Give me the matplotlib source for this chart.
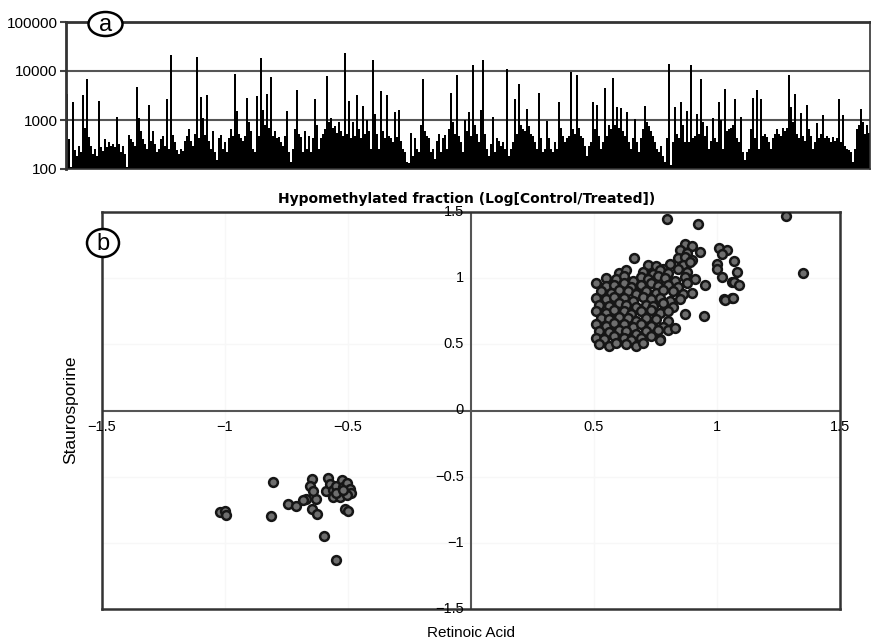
import matplotlib
matplotlib.use("Agg")
import matplotlib.pyplot as plt
import numpy as np
from matplotlib.transforms import offset_copy
from matplotlib.patches import Ellipse

plt.rcParams['font.family'] = ['Liberation Sans', 'DejaVu Sans']

# ---------------- Panel a data: signal per probe (log scale) ----------------
bar_values = [
    3400, 400, 110, 2300, 250, 180, 300, 220, 3200, 700,
    6900, 450, 300, 200, 260, 180, 2500, 280, 230, 400,
    280, 350, 300, 330, 280, 1150, 320, 220, 300, 200,
    110, 500, 400, 350, 300, 4800, 1100, 600, 400, 320,
    260, 2000, 380, 600, 330, 220, 260, 400, 480, 300,
    2700, 260, 21000, 500, 350, 250, 200, 260, 230, 380,
    480, 650, 380, 290, 520, 19000, 420, 2900, 1100, 500,
    3200, 380, 260, 600, 220, 150, 420, 500, 260, 360,
    220, 420, 650, 480, 8700, 1500, 520, 420, 380, 480,
    2800, 900, 600, 260, 220, 3100, 480, 18000, 1600, 800,
    3400, 700, 7600, 480, 600, 420, 450, 350, 300, 480,
    1500, 220, 140, 260, 650, 4100, 520, 450, 220, 600,
    260, 480, 220, 420, 2700, 800, 260, 420, 520, 650,
    7900, 900, 1100, 700, 750, 550, 900, 600, 480, 23000,
    520, 2500, 420, 900, 480, 3300, 650, 420, 1900, 520,
    1000, 600, 260, 16800, 1300, 520, 260, 3900, 600, 420,
    3200, 480, 420, 350, 1450, 450, 1600, 380, 260, 220,
    140, 130, 550, 180, 420, 260, 220, 800, 7000, 600,
    480, 420, 220, 260, 160, 380, 520, 220, 420, 500,
    260, 650, 3600, 900, 520, 8300, 480, 350, 220, 1000,
    600, 1450, 480, 13200, 800, 520, 350, 1600, 16500, 520,
    260, 180, 320, 1150, 220, 420, 380, 300, 350, 260,
    10800, 180, 260, 350, 2700, 520, 5400, 800, 650, 600,
    1700, 750, 520, 480, 350, 260, 3600, 420, 220, 260,
    950, 420, 260, 220, 350, 260, 2300, 700, 480, 350,
    420, 480, 9700, 650, 520, 8200, 700, 480, 420, 300,
    180, 300, 350, 2300, 650, 2000, 480, 260, 350, 4600,
    480, 800, 650, 7300, 800, 1870, 700, 1750, 600, 480,
    1450, 350, 260, 420, 1050, 350, 220, 420, 650, 1930,
    900, 750, 600, 480, 350, 260, 220, 300, 180, 140,
    420, 13800, 120, 350, 1870, 520, 420, 2300, 800, 350,
    1530, 350, 13000, 420, 480, 1300, 520, 7000, 900, 480,
    750, 260, 380, 1100, 420, 350, 2300, 1000, 260, 4300,
    600, 650, 700, 800, 2650, 420, 350, 1150, 220, 150,
    220, 260, 650, 2850, 420, 4000, 260, 2650, 480, 520,
    450, 350, 260, 420, 520, 650, 520, 480, 700, 600,
    700, 8300, 1800, 900, 3400, 520, 420, 1370, 480, 380,
    2000, 650, 480, 260, 350, 880, 420, 520, 1250, 420,
    480, 420, 350, 450, 380, 420, 2650, 350, 1250, 300,
    260, 240, 220, 140, 260, 650, 800, 1700, 900, 520,
    800, 550,
]
a_yticks = [100, 1000, 10000, 100000]
a_yticklabels = ["100", "1000", "10000", "100000"]

# ---------------- Panel b data: Retinoic acid (x) vs Staurosporine (y) ----------------
up_x = [
    0.87, 0.90,
    0.85, 0.88, 0.93, 1.01, 1.04,
    0.84, 0.87, 0.90, 1.02,
    0.72, 0.75, 0.78, 0.81, 0.86, 0.89, 1.00, 1.07,
    0.60, 0.63, 0.70, 0.74, 0.77, 0.80, 0.84, 0.88, 1.00, 1.08,
    0.55, 0.59, 0.62, 0.66, 0.69, 0.72, 0.76, 0.79, 0.83, 0.87, 0.91, 1.02, 1.06,
    0.51, 0.55, 0.58, 0.62, 0.65, 0.69, 0.73, 0.76, 0.80, 0.84, 0.88, 1.07, 1.09,
    0.53, 0.57, 0.60, 0.64, 0.67, 0.71, 0.75, 0.78, 0.82, 0.86, 0.90,
    0.51, 0.55, 0.58, 0.62, 0.66, 0.70, 0.73, 0.77, 0.81, 0.85, 1.03, 1.06,
    0.52, 0.56, 0.60, 0.63, 0.67, 0.71, 0.74, 0.78, 0.82,
    0.51, 0.55, 0.58, 0.62, 0.65, 0.69, 0.73, 0.77, 0.80,
    0.53, 0.56, 0.60, 0.64, 0.67, 0.71, 0.75, 0.80,
    0.51, 0.55, 0.58, 0.62, 0.66, 0.69, 0.73, 0.78,
    0.52, 0.56, 0.60, 0.63, 0.67, 0.71, 0.76, 0.80, 0.83,
    0.51, 0.54, 0.58, 0.62, 0.65, 0.69, 0.73, 0.77,
    0.52, 0.56, 0.59, 0.63, 0.67, 0.70, 0.77,
    0.795, 0.924, 1.280, 1.348, 0.664, 0.951, 0.948, 0.870, 1.032, 1.064,
]
up_y = [
    1.26, 1.24,
    1.21, 1.19, 1.20, 1.23, 1.21,
    1.15, 1.16, 1.14, 1.18,
    1.10, 1.09, 1.07, 1.11, 1.10, 1.12, 1.11, 1.13,
    1.04, 1.06, 1.05, 1.03, 1.06, 1.04, 1.07, 1.05, 1.07, 1.05,
    1.00, 0.99, 1.02, 0.98, 1.01, 0.99, 1.02, 1.00, 0.98, 1.01, 0.99, 1.01, 0.97,
    0.96, 0.94, 0.95, 0.96, 0.93, 0.95, 0.96, 0.94, 0.95, 0.93, 0.96, 0.97, 0.95,
    0.90, 0.89, 0.91, 0.90, 0.88, 0.90, 0.89, 0.91, 0.90, 0.88, 0.89,
    0.85, 0.84, 0.86, 0.85, 0.83, 0.86, 0.84, 0.85, 0.83, 0.84, 0.84, 0.85,
    0.80, 0.79, 0.81, 0.80, 0.78, 0.80, 0.79, 0.81, 0.78,
    0.75, 0.74, 0.76, 0.75, 0.73, 0.75, 0.76, 0.74, 0.75,
    0.70, 0.69, 0.71, 0.70, 0.68, 0.70, 0.69, 0.68,
    0.65, 0.64, 0.66, 0.65, 0.63, 0.65, 0.64, 0.63,
    0.60, 0.59, 0.61, 0.60, 0.58, 0.60, 0.61, 0.61, 0.62,
    0.55, 0.54, 0.56, 0.55, 0.53, 0.55, 0.56, 0.54,
    0.50, 0.49, 0.51, 0.50, 0.49, 0.51, 0.53,
    1.449, 1.411, 1.466, 1.041, 1.154, 0.952, 0.713, 0.730, 0.837, 0.851,
]
low_x = [
    -1.020, -1.000, -0.995, -0.806, -0.815, -0.742, -0.711,
    -0.671, -0.682, -0.630, -0.648, -0.655, -0.641, -0.648, -0.625,
    -0.583, -0.590, -0.574, -0.563, -0.561, -0.547, -0.533, -0.526,
    -0.520, -0.513, -0.506, -0.493, -0.486, -0.547, -0.506, -0.520,
    -0.512, -0.499, -0.598, -0.549,
]
low_y = [
    -0.769, -0.761, -0.793, -0.537, -0.801, -0.705, -0.723,
    -0.667, -0.680, -0.667, -0.517, -0.574, -0.610, -0.743, -0.781,
    -0.509, -0.610, -0.554, -0.600, -0.655, -0.567, -0.650, -0.524,
    -0.579, -0.617, -0.549, -0.592, -0.625, -0.625, -0.642, -0.600,
    -0.743, -0.756, -0.950, -1.129,
]
b_xticks = [-1.5, -1, -0.5, 0.5, 1, 1.5]
b_xticklabels = ["\u22121.5", "\u22121", "\u22120.5", "0.5", "1", "1.5"]
b_yticks = [1.5, 1, 0.5, 0, -0.5, -1, -1.5]
b_yticklabels = ["1.5", "1", "0.5", "0", "\u22120.5", "\u22121", "\u22121.5"]

W, H = 871, 643
fig = plt.figure(figsize=(W / 100, H / 100), dpi=100)

def rect(l, r, t, b):
    return [l / W, 1 - b / H, (r - l) / W, (b - t) / H]

# ---------------- Panel a ----------------
axa = fig.add_axes(rect(66, 870, 22, 169))
xs = np.arange(len(bar_values))
axa.bar(xs, np.array(bar_values) - 100, bottom=100, width=0.8, color='black',
        edgecolor='none', linewidth=0)
axa.set_yscale('log')
axa.set_ylim(100, 100000)
axa.set_xlim(-0.5, len(bar_values) - 0.5)
axa.set_yticks(a_yticks)
axa.set_yticklabels(a_yticklabels, fontsize=11)
axa.yaxis.set_minor_locator(matplotlib.ticker.NullLocator())
axa.set_xticks([])
axa.tick_params(axis='y', length=4, width=1.5, color='#444444', pad=2)
for yv in [1000, 10000]:
    axa.axhline(yv, color='#555555', lw=1.5, zorder=0)
for s in ['top', 'bottom', 'left', 'right']:
    axa.spines[s].set_color('#333333')
axa.spines['left'].set_linewidth(2.0)
axa.spines['top'].set_linewidth(2.0)
axa.spines['bottom'].set_linewidth(1.2)
axa.spines['right'].set_linewidth(1.2)

# ---------------- Panel b ----------------
axb = fig.add_axes(rect(102, 840, 212, 609))
axb.set_xlim(-1.5, 1.5)
axb.set_ylim(-1.5, 1.5)
for v in [-1, -0.5, 0.5, 1]:
    axb.axvline(v, color='#f7f7f7', lw=1.0, zorder=0)
    axb.axhline(v, color='#f7f7f7', lw=1.0, zorder=0)
axb.axvline(0, color='#555555', lw=1.5, zorder=1)
axb.axhline(0, color='#555555', lw=1.5, zorder=1)
for xx, yy in [(up_x, up_y), (low_x, low_y)]:
    axb.scatter(xx, yy, s=40, c='#6e6e6e', edgecolors='#161616', linewidths=1.8, zorder=3)
axb.set_xticks([])
axb.set_yticks([])
for s in ['top', 'bottom', 'left', 'right']:
    axb.spines[s].set_color('#333333')
    axb.spines[s].set_linewidth(1.8)

xt = offset_copy(axb.transData, fig=fig, x=0, y=-7, units='points')
for v, lab in zip(b_xticks, b_xticklabels):
    axb.text(v, 0, lab, transform=xt, ha='center', va='top', fontsize=10.5, zorder=4, clip_on=False)
yt = offset_copy(axb.transData, fig=fig, x=-5, y=0, units='points')
for v, lab in zip(b_yticks, b_yticklabels):
    axb.text(0, v, lab, transform=yt, ha='right', va='center', fontsize=10.5, zorder=4, clip_on=False)

fig.text(467 / W, 1 - 199 / H, "Hypomethylated fraction (Log[Control/Treated])",
         ha='center', va='center', fontsize=10, fontweight='bold', family='DejaVu Sans')
fig.text(71 / W, 1 - 410 / H, "Staurosporine", rotation=90, ha='center', va='center', fontsize=12.5)
fig.text(471 / W, 1 - 633 / H, "Retinoic Acid", ha='center', va='center', fontsize=11)

# circled panel letters
for (cx, cy, ew, eh, lab) in [(105.5, 24, 34, 24, "a"), (103, 243, 32, 28, "b")]:
    e = Ellipse((cx / W, 1 - cy / H), ew / W, eh / H, transform=fig.transFigure,
                facecolor='white', edgecolor='black', linewidth=1.8, zorder=10)
    fig.add_artist(e)
    fig.text(cx / W, 1 - (cy + 1) / H, lab, ha='center', va='center', fontsize=17,
             zorder=11)

fig.savefig("out.png", dpi=100)
